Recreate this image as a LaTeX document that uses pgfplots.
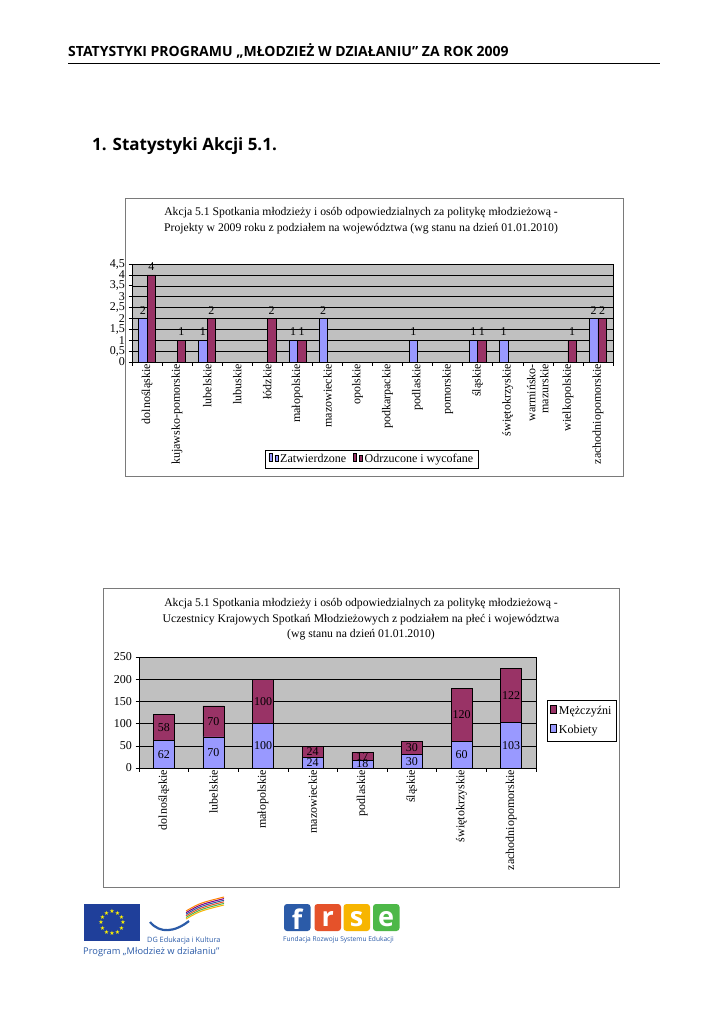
\documentclass[border=0pt]{standalone}
\usepackage{fontspec}
\setmainfont{Liberation Serif}
\newfontfamily\hdr{Open Sans}
\newfontfamily\djv{DejaVu Sans}
\usepackage{pgfplots}
\pgfplotsset{compat=1.18}
\usepackage{pgfplotstable}

\definecolor{zblue}{HTML}{9999FF}
\definecolor{zpurple}{HTML}{993366}
\definecolor{plotbg}{HTML}{C0C0C0}
\definecolor{boxgray}{HTML}{7A7A7A}
\definecolor{eublue}{HTML}{1F3F9A}
\definecolor{yiablue}{HTML}{2B5BA8}
\definecolor{frsered}{HTML}{E5522A}
\definecolor{frseyel}{HTML}{F7B500}
\definecolor{frsegrn}{HTML}{4DB848}

\newcommand\fs[2]{\fontsize{#1}{#2}\selectfont}

\pgfplotstableread{
x k m
0 62 58
1 70 70
2 100 100
3 24 24
4 18 17
5 30 30
6 60 120
7 103 122
}\uczest

\pgfplotsset{
  raport/.style={
    scale only axis,
    axis background/.style={fill=plotbg},
    axis line style={black, line width=0.6pt},
    ymajorgrids, grid style={black, line width=0.5pt},
    tick align=outside, major tick length=3.5pt,
    xtick pos=bottom, ytick pos=left,
    tick style={black, line width=0.6pt},
    /pgf/number format/assume math mode=true,
    tick label style={font=\fs{12pt}{13pt}},
    x tick label style={rotate=90, anchor=east, align=right, inner sep=2pt},
    xticklabels={},
    extra x tick style={major tick length=0pt},
    legend style={font=\fs{12pt}{13pt}, draw=black, line width=0.5pt},
    legend cell align=left,
    legend image code/.code={\draw[##1, line width=0.5pt] (0pt,-3.5pt) rectangle (7pt,3.5pt);},
    clip=false,
  }
}

\begin{document}
\begin{tikzpicture}
\useasboundingbox (0,0) rectangle (724pt,-1024pt);
\fill[white] (0,0) rectangle (724pt,-1024pt);

% naglowek strony
\node[anchor=base west, inner sep=0, font=\hdr\bfseries\fs{14pt}{16pt}] at (68pt,-57pt)
  {STATYSTYKI PROGRAMU „MŁODZIEŻ W DZIAŁANIU” ZA ROK 2009};
\draw[black, line width=1.2pt] (68pt,-63.5pt) -- (660pt,-63.5pt);
\node[anchor=base west, inner sep=0, font=\hdr\bfseries\fs{17pt}{20pt}] at (92pt,-151pt)
  {1. Statystyki Akcji 5.1.};

% wykres 1
\draw[boxgray, line width=0.8pt] (125pt,-198pt) rectangle (623pt,-476pt);
\node[align=center, font=\fs{11.7pt}{16pt}] at (361pt,-221pt)
  {Akcja 5.1 Spotkania młodzieży i osób odpowiedzialnych za politykę młodzieżową -\\
   Projekty w 2009 roku z podziałem na województwa (wg stanu na dzień 01.01.2010)};

\begin{axis}[raport,
  at={(132pt,-362pt)}, anchor=south west,
  width=481pt, height=98pt,
  ybar=0pt, bar width=8.5pt,
  xmin=-0.5, xmax=15.5, ymin=0, ymax=4.5,
  ytick={0,0.5,...,4.5},
  yticklabel style={/pgf/number format/use comma},
  xtick={-0.5,0.5,...,15.5},
  extra x ticks={0,...,15},
  extra x tick labels={dolnośląskie,kujawsko-pomorskie,lubelskie,lubuskie,łódzkie,
    małopolskie,mazowieckie,opolskie,podkarpackie,podlaskie,pomorskie,śląskie,
    świętokrzyskie,{warmińsko-\\mazurskie},wielkopolskie,zachodniopomorskie},
  nodes near coords,
  every node near coord/.append style={font=\fs{12pt}{13pt}, black, inner sep=4pt},
  legend columns=2,
  legend style={at={(0.499,-0.898)}, anchor=north,
    /tikz/every even column/.append style={column sep=5pt}},
]
\addplot[fill=zblue, draw=black, line width=0.5pt]
  coordinates {(0,2) (2,1) (5,1) (6,2) (9,1) (11,1) (12,1) (15,2)};
\addplot[fill=zpurple, draw=black, line width=0.5pt]
  coordinates {(0,4) (1,1) (2,2) (4,2) (5,1) (11,1) (14,1) (15,2)};
\legend{Zatwierdzone, Odrzucone i wycofane}
\end{axis}

% wykres 2
\draw[boxgray, line width=0.8pt] (103pt,-588pt) rectangle (619pt,-887pt);
\node[align=center, font=\fs{11.7pt}{15.5pt}] at (361pt,-619.5pt)
  {Akcja 5.1 Spotkania młodzieży i osób odpowiedzialnych za politykę młodzieżową -\\
   Uczestnicy Krajowych Spotkań Młodzieżowych z podziałem na płeć i województwa\\
   (wg stanu na dzień 01.01.2010)};

\begin{axis}[raport,
  at={(139pt,-768pt)}, anchor=south west,
  width=397pt, height=111pt,
  ybar stacked, bar width=21pt,
  xmin=-0.5, xmax=7.5, ymin=0, ymax=250,
  ytick={0,50,...,250},
  xtick={-0.5,0.5,...,7.5},
  extra x ticks={0,...,7},
  extra x tick labels={dolnośląskie,lubelskie,małopolskie,mazowieckie,podlaskie,
    śląskie,świętokrzyskie,zachodniopomorskie},
  reverse legend,
  legend style={at={(1.028,0.613)}, anchor=north west,
    row sep=5pt, inner ysep=4pt},
]
\addplot[fill=zblue, draw=black, line width=0.5pt] table[x=x, y=k] {\uczest};
\addplot[fill=zpurple, draw=black, line width=0.5pt] table[x=x, y=m] {\uczest};
\legend{Kobiety, Mężczyźni}
\end{axis}

% etykiety wartosci w srodku segmentow
\begin{axis}[
  at={(139pt,-768pt)}, anchor=south west,
  width=397pt, height=111pt, scale only axis,
  xmin=-0.5, xmax=7.5, ymin=0, ymax=250,
  hide axis, clip=false,
  nodes near coords, point meta=explicit,
  every node near coord/.append style={font=\fs{12pt}{13pt}, black, anchor=center, inner sep=0pt},
  /pgf/number format/assume math mode=true,
]
\addplot[only marks, mark=text, text mark={}]
  table[x=x, y expr=\thisrow{k}/2, meta=k] {\uczest};
\addplot[only marks, mark=text, text mark={}]
  table[x=x, y expr=\thisrow{k}+\thisrow{m}/2, meta=m] {\uczest};
\end{axis}

% logotypy
\fill[eublue] (84pt,-904pt) rectangle (140pt,-941pt);
\foreach \a in {0,30,...,330}
  \node[text=yellow, font=\djv\fs{6pt}{6pt}, inner sep=0pt]
    at ([shift={(\a:11pt)}]112pt,-922.5pt) {★};
\draw[yiablue, line width=2.2pt] (150pt,-922pt) .. controls (160pt,-934pt) and (175pt,-932pt) .. (189pt,-921pt);
\foreach \c/\d in {frseyel/0,frsegrn/1.6,frsered/3.2,yiablue/4.8,violet/6.4,orange/8}
  \draw[\c, line width=1pt] (186pt,{-919pt+\d pt}) .. controls (200pt,{-911pt+\d pt}) .. (224pt,{-905pt+\d pt});
\node[anchor=west, inner sep=0, text=yiablue, font=\hdr\fs{7.3pt}{8pt}] at (147pt,-940.5pt) {DG Edukacja i Kultura};
\node[anchor=west, inner sep=0, text=yiablue, font=\hdr\fs{9.3pt}{10pt}] at (83pt,-952.5pt) {Program „Młodzież w działaniu”};

\foreach \x/\c/\l in {284/yiablue/f,314.5/frsered/r,343.5/frseyel/s,373/frsegrn/e}{
  \fill[\c, rounded corners=3pt] (\x pt,-904pt) rectangle ({\x pt+26.5pt},-931pt);
  \node[text=white, font=\hdr\bfseries\fs{27pt}{27pt}, inner sep=0pt] at ({\x pt+13.2pt},-919pt) {\l};
}
\node[anchor=west, inner sep=0, text=yiablue, font=\hdr\fs{6.6pt}{7pt}] at (283pt,-940pt) {Fundacja Rozwoju Systemu Edukacji};
\end{tikzpicture}
\end{document}
